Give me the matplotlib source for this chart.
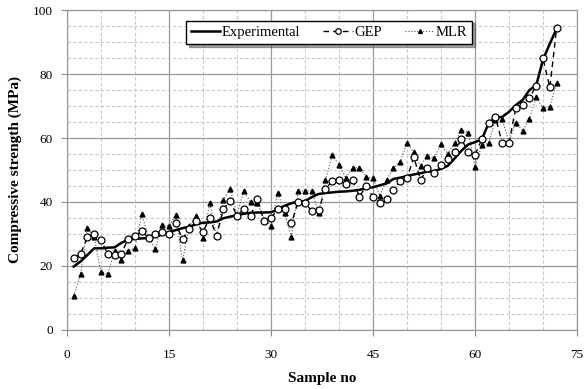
import numpy as np
import matplotlib
matplotlib.use('Agg')
import matplotlib.pyplot as plt
from matplotlib.ticker import MultipleLocator

plt.rcParams['font.family'] = ['Liberation Serif', 'DejaVu Serif']

# sample numbers 1..72
samples = list(range(1, 73))

experimental = [
    19.8, 21.4, 23.4, 25.5, 25.5, 25.7, 25.8, 27.2, 28.2, 28.5,
    28.6, 28.7, 29.2, 29.8, 30.5, 31.2, 31.8, 32.3, 33.0, 33.5,
    33.6, 33.9, 34.9, 35.4, 35.9, 36.3, 36.6, 36.7, 36.7, 36.8,
    37.5, 38.8, 39.6, 40.1, 40.3, 41.5, 42.5, 42.8, 43.0, 43.2,
    43.3, 43.5, 43.8, 44.3, 44.6, 45.2, 45.8, 47.2, 47.6, 48.1,
    48.6, 49.0, 49.5, 49.6, 50.4, 51.3, 53.6, 56.0, 58.0, 58.7,
    59.6, 64.6, 66.4, 66.6, 68.2, 70.3, 71.9, 75.0, 76.5, 84.5,
    89.5, 94.2,
]

gep = [
    22.4, 23.8, 28.9, 29.9, 28.1, 23.8, 23.3, 23.8, 28.5, 29.4,
    30.9, 28.6, 29.9, 30.6, 30.0, 33.3, 28.4, 31.6, 33.9, 30.6,
    35.0, 29.4, 37.7, 40.4, 35.6, 37.8, 35.6, 40.9, 33.9, 34.9,
    37.7, 37.8, 33.3, 40.0, 39.8, 37.1, 37.4, 44.0, 46.5, 46.9,
    45.5, 46.8, 41.7, 45.0, 41.6, 39.7, 41.0, 43.8, 46.6, 47.4,
    54.0, 46.9, 50.5, 49.2, 51.5, 53.4, 55.6, 59.7, 55.7, 54.7,
    59.6, 64.8, 66.7, 58.3, 58.5, 69.5, 70.3, 72.6, 76.3, 84.9,
    75.8, 94.3,
]

mlr = [
    10.6, 17.5, 31.8, 29.0, 18.2, 17.5, 24.8, 22.0, 24.8, 25.5,
    36.3, 28.9, 25.4, 32.9, 32.5, 35.8, 21.7, 32.5, 35.7, 28.6,
    39.6, 29.5, 40.6, 44.2, 36.0, 43.4, 39.9, 39.6, 34.5, 32.6,
    42.9, 36.5, 29.2, 43.4, 43.5, 43.5, 36.4, 46.8, 54.6, 51.7,
    47.5, 50.7, 50.7, 47.9, 47.4, 42.0, 46.9, 50.5, 52.5, 58.5,
    55.5, 51.3, 54.5, 53.8, 58.0, 55.0, 58.5, 62.5, 61.7, 51.0,
    57.8, 58.3, 65.6, 65.8, 58.9, 64.8, 62.3, 66.1, 72.7, 69.3,
    69.8, 77.3,
]

fig = plt.figure(figsize=(5.87, 3.89), dpi=100)
ax = fig.add_axes([0.114, 0.152, 0.869, 0.822])

ax.plot(samples, mlr, linestyle=':', color='#555555', linewidth=0.8,
        marker='^', markersize=3.5, markerfacecolor='black',
        markeredgecolor='black', label='MLR', zorder=2)
ax.plot(samples, experimental, linestyle='-', color='black', linewidth=1.8,
        label='Experimental', zorder=3)
ax.plot(samples, gep, linestyle=(0, (4, 3)), color='black', linewidth=1.0,
        marker='o', markersize=5, markerfacecolor='white',
        markeredgecolor='black', markeredgewidth=0.9, label='GEP', zorder=4)

ax.set_xlim(0, 75)
ax.set_ylim(0, 100)
ax.xaxis.set_major_locator(MultipleLocator(15))
ax.xaxis.set_minor_locator(MultipleLocator(5))
ax.yaxis.set_major_locator(MultipleLocator(20))
ax.yaxis.set_minor_locator(MultipleLocator(5))

ax.grid(which='major', color='#999999', linewidth=0.9, linestyle='-')
ax.grid(which='minor', color='#c8c8c8', linewidth=0.8, linestyle=(0, (3, 2)))
ax.set_axisbelow(True)

for s in ax.spines.values():
    s.set_color('#999999')
    s.set_linewidth(0.9)

ax.tick_params(which='major', direction='out', length=4, color='#888888',
               labelsize=9.5, pad=6)
ax.tick_params(which='minor', length=0)
ax.tick_params(axis='x', pad=10)

ax.set_xlabel('Sample no', fontsize=11, fontweight='bold', labelpad=8)
ax.set_ylabel('Compressive strength (MPa)', fontsize=11, fontweight='bold',
              labelpad=8)

handles, labels = ax.get_legend_handles_labels()
order = [1, 2, 0]
leg = ax.legend([handles[i] for i in order], [labels[i] for i in order],
                loc='upper center', bbox_to_anchor=(0.514, 0.99), ncol=3,
                fontsize=10.5, frameon=True, fancybox=False, shadow=True,
                edgecolor='black', framealpha=1, handlelength=2.0,
                handletextpad=0.1, columnspacing=1.6, borderpad=0.35,
                markerscale=0.8)
leg.get_frame().set_linewidth(1.0)

fig.savefig('out.png', dpi=100)
